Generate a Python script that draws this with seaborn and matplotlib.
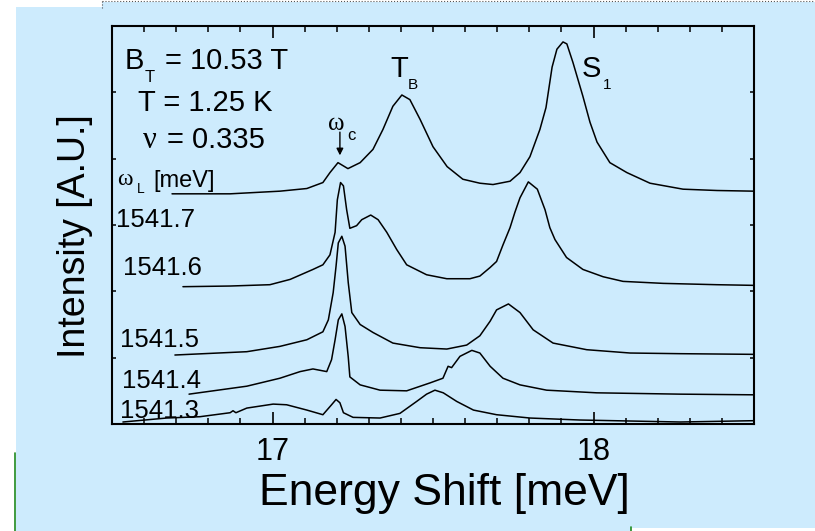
import numpy as np
import pandas as pd
import matplotlib
matplotlib.use("Agg")
import matplotlib.pyplot as plt
import seaborn as sns
from matplotlib.patches import Rectangle
from matplotlib.lines import Line2D
from matplotlib.ticker import MultipleLocator, NullFormatter

# ---------------- data ----------------
laser_energies = ["1541.7", "1541.6", "1541.5", "1541.4", "1541.3"]

shift_1541_7 = [16.687, 16.868, 17.023, 17.107, 17.157, 17.179, 17.204, 17.235, 17.273, 17.313,
                17.344, 17.375, 17.403, 17.428, 17.460, 17.500, 17.544, 17.593, 17.646, 17.687,
                17.740, 17.771, 17.802, 17.833, 17.852, 17.871, 17.886, 17.905, 17.917, 17.936,
                17.967, 17.989, 18.011, 18.051, 18.104, 18.176, 18.279, 18.385, 18.500]
int_1541_7 = [3.47, 3.47, 3.51, 3.55, 3.64, 3.79, 3.94, 3.85, 3.94, 4.14,
              4.44, 4.79, 4.96, 4.89, 4.59, 4.18, 3.88, 3.69, 3.63, 3.61,
              3.66, 3.79, 4.03, 4.44, 4.77, 5.38, 5.65, 5.76, 5.73, 5.45,
              4.94, 4.55, 4.25, 3.94, 3.79, 3.63, 3.54, 3.52, 3.51]

shift_1541_6 = [16.721, 16.868, 16.992, 17.055, 17.126, 17.157, 17.179, 17.195, 17.202, 17.212,
                17.221, 17.231, 17.241, 17.262, 17.278, 17.306, 17.329, 17.356, 17.387, 17.418,
                17.480, 17.543, 17.615, 17.646, 17.678, 17.698, 17.718, 17.740, 17.755, 17.771,
                17.797, 17.825, 17.849, 17.864, 17.880, 17.916, 17.967, 18.030, 18.092, 18.217,
                18.384, 18.500]
int_1541_6 = [2.07, 2.08, 2.10, 2.18, 2.33, 2.40, 2.55, 2.89, 3.38, 3.64,
              3.59, 3.23, 2.95, 2.99, 3.08, 3.15, 3.08, 2.89, 2.63, 2.40,
              2.25, 2.19, 2.19, 2.23, 2.36, 2.45, 2.70, 2.96, 3.19, 3.41,
              3.65, 3.54, 3.23, 2.96, 2.78, 2.51, 2.33, 2.22, 2.15, 2.12,
              2.10, 2.09]

shift_1541_5 = [16.696, 16.920, 17.023, 17.107, 17.157, 17.174, 17.189, 17.198, 17.205, 17.216,
                17.226, 17.236, 17.247, 17.273, 17.313, 17.375, 17.460, 17.543, 17.605, 17.646,
                17.678, 17.698, 17.735, 17.771, 17.812, 17.874, 17.979, 18.114, 18.270, 18.500]
int_1541_5 = [1.04, 1.09, 1.17, 1.27, 1.39, 1.57, 1.98, 2.38, 2.73, 2.83,
              2.68, 2.13, 1.68, 1.50, 1.38, 1.22, 1.15, 1.13, 1.19, 1.33,
              1.55, 1.72, 1.81, 1.68, 1.42, 1.22, 1.12, 1.07, 1.06, 1.05]

shift_1541_4 = [16.740, 16.920, 17.023, 17.086, 17.126, 17.169, 17.184, 17.195, 17.205, 17.216,
                17.226, 17.236, 17.241, 17.273, 17.335, 17.418, 17.491, 17.531, 17.547, 17.558,
                17.584, 17.621, 17.646, 17.678, 17.718, 17.771, 17.854, 18.010, 18.270, 18.500]
int_1541_4 = [0.45, 0.57, 0.69, 0.79, 0.83, 0.79, 0.97, 1.27, 1.57, 1.66,
              1.47, 1.01, 0.71, 0.59, 0.51, 0.50, 0.62, 0.69, 0.87, 0.85,
              1.02, 1.11, 1.07, 0.87, 0.69, 0.59, 0.51, 0.47, 0.45, 0.44]

shift_1541_3 = [16.534, 16.670, 16.774, 16.868, 16.877, 16.886, 16.920, 17.002, 17.044, 17.107,
                17.157, 17.184, 17.198, 17.210, 17.221, 17.251, 17.335, 17.397, 17.449, 17.480,
                17.506, 17.532, 17.574, 17.626, 17.698, 17.802, 17.958, 18.270, 18.500]
int_1541_3 = [0.03, 0.09, 0.11, 0.17, 0.20, 0.17, 0.24, 0.30, 0.29, 0.21,
              0.14, 0.29, 0.37, 0.32, 0.17, 0.10, 0.09, 0.16, 0.34, 0.45,
              0.51, 0.47, 0.34, 0.21, 0.14, 0.09, 0.06, 0.03, 0.05]

shifts = [shift_1541_7, shift_1541_6, shift_1541_5, shift_1541_4, shift_1541_3]
intensities = [int_1541_7, int_1541_6, int_1541_5, int_1541_4, int_1541_3]

frames = []
for lab, xs, ys in zip(laser_energies, shifts, intensities):
    frames.append(pd.DataFrame({"shift": xs, "intensity": ys, "laser": lab}))
df = pd.concat(frames, ignore_index=True)

# ---------------- style ----------------
sns.set_theme(style="ticks")
plt.rcParams["font.family"] = ["Liberation Sans", "DejaVu Sans"]
plt.rcParams["axes.linewidth"] = 1.5

BLUE = "#cdebfd"
W, H = 815, 531
fig = plt.figure(figsize=(W / 100, H / 100), dpi=100)
fig.patch.set_facecolor("white")

def fx(px):
    return px / W

def fy(py):
    return 1 - py / H

# page background pieces
fig.add_artist(Rectangle((fx(16), 0), 1 - fx(16), fy(7), transform=fig.transFigure,
                         facecolor=BLUE, edgecolor="none", zorder=-10))
fig.add_artist(Rectangle((fx(102), fy(7)), 1 - fx(102), fy(2) - fy(7), transform=fig.transFigure,
                         facecolor=BLUE, edgecolor="none", zorder=-10))
fig.add_artist(Rectangle((fx(631), 0), 1 - fx(631), 3 / H, transform=fig.transFigure,
                         facecolor="white", edgecolor="none", zorder=-9))
fig.add_artist(Line2D([fx(102), 1], [fy(1), fy(1)], transform=fig.transFigure,
                      color="#555555", lw=0.8, ls=":"))
fig.add_artist(Line2D([fx(102), fx(102)], [fy(1), fy(8)], transform=fig.transFigure,
                      color="#555555", lw=0.8, ls=":"))
fig.add_artist(Line2D([fx(15), fx(15)], [0, fy(453)], transform=fig.transFigure,
                      color="#1f8a1f", lw=1.2))
fig.add_artist(Line2D([fx(631), fx(631)], [0, fy(527)], transform=fig.transFigure,
                      color="#1f8a1f", lw=1.2))

ax = fig.add_axes([fx(112), fy(424), fx(754) - fx(112), fy(26) - fy(424)])
ax.patch.set_alpha(0)

sns.lineplot(data=df, x="shift", y="intensity", hue="laser", units="laser",
             estimator=None, sort=False, palette={k: "black" for k in laser_energies},
             linewidth=1.1, legend=False, ax=ax)

ax.set_xlim(16.5, 18.5)
ax.set_ylim(0, 6)
for s in ax.spines.values():
    s.set_visible(True)
    s.set_linewidth(1.5)
    s.set_color("black")

ax.xaxis.set_major_locator(MultipleLocator(1))
ax.xaxis.set_minor_locator(MultipleLocator(0.1))
ax.yaxis.set_major_locator(MultipleLocator(1))
ax.yaxis.set_major_formatter(NullFormatter())
ax.tick_params(axis="x", which="major", direction="in", length=8.6, width=1.2,
               top=True, bottom=True, labelsize=22, pad=9, colors="black")
ax.tick_params(axis="x", which="minor", direction="in", length=4.3, width=1.1,
               top=True, bottom=True, colors="black")
ax.tick_params(axis="y", which="major", direction="in", length=3, width=1.1,
               left=True, right=True, labelleft=False, colors="black")
ax.tick_params(axis="y", which="minor", left=False, right=False)

ax.set_xlabel("Energy Shift [meV]", fontsize=32, color="black")
ax.set_ylabel("Intensity [A.U.]", fontsize=27, color="black")
ax.xaxis.set_label_coords(0.517, -0.122)
ax.yaxis.set_label_coords(-0.03, 0.472)

greek = ["Liberation Serif", "DejaVu Serif"]

def txt(x, y, s, size, **kw):
    ax.text(x, y, s, fontsize=size, ha="left", va="baseline", color="black", **kw)

# parameter block
txt(16.5405, 5.352, "B", 21)
txt(16.603, 5.156, "T", 12)
txt(16.665, 5.352, "= 10.53 T", 21)
txt(16.581, 4.719, "T = 1.25 K", 21)
txt(16.596, 4.161, "\u03bd", 22, family=greek)
txt(16.671, 4.161, "= 0.335", 21)
txt(16.517, 3.603, "\u03c9", 17, family=greek)
txt(16.577, 3.483, "L", 10)
txt(16.628, 3.573, "[meV]", 17)

# laser-energy labels
label_pos = [(16.512, 2.970), (16.534, 2.246), (16.525, 1.161), (16.531, 0.543), (16.525, 0.090)]
for lab, (lx, ly) in zip(laser_energies, label_pos):
    txt(lx, ly, lab, 18.5)

# peak labels
txt(17.366, 5.231, "T", 21)
txt(17.422, 5.050, "B", 11)
txt(17.964, 5.231, "S", 21)
txt(18.030, 5.050, "1", 11)
txt(17.173, 4.432, "\u03c9", 18, family=greek)
txt(17.232, 4.282, "c", 12)
ax.annotate("", xy=(17.210, 4.05), xytext=(17.210, 4.40),
            arrowprops=dict(arrowstyle="-|>", color="black", lw=1.0,
                            mutation_scale=10, shrinkA=0, shrinkB=0))

fig.savefig("out.png", dpi=100, facecolor=fig.get_facecolor())
